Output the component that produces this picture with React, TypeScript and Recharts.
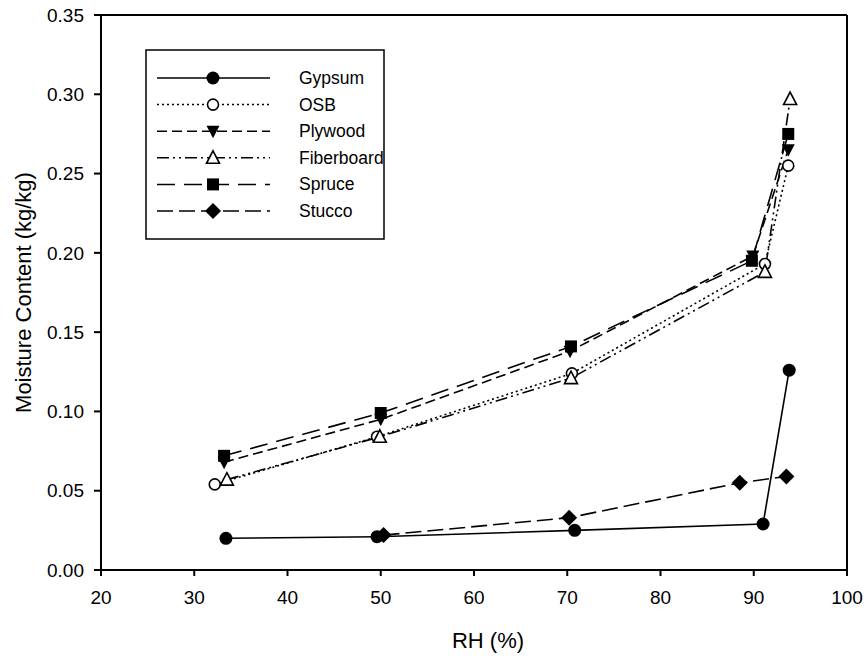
import React from 'react'
import { LineChart, Line, XAxis, YAxis, ReferenceLine, Legend } from 'recharts'

const gypsumRH = [33.4, 49.6, 70.8, 91.0, 93.8]
const gypsumMC = [0.020, 0.021, 0.025, 0.029, 0.126]

const osbRH = [32.2, 49.6, 70.5, 91.2, 93.7]
const osbMC = [0.054, 0.084, 0.124, 0.193, 0.255]

const plywoodRH = [33.2, 50.0, 70.3, 89.9, 93.7]
const plywoodMC = [0.068, 0.095, 0.138, 0.198, 0.265]

const fiberRH = [33.5, 49.9, 70.4, 91.2, 93.9]
const fiberMC = [0.057, 0.084, 0.121, 0.188, 0.297]

const spruceRH = [33.2, 50.0, 70.4, 89.8, 93.7]
const spruceMC = [0.072, 0.099, 0.141, 0.195, 0.275]

const stuccoRH = [50.3, 70.2, 88.5, 93.5]
const stuccoMC = [0.022, 0.033, 0.055, 0.059]

const xTicks = [20, 30, 40, 50, 60, 70, 80, 90, 100]
const yTicks = [0, 0.05, 0.1, 0.15, 0.2, 0.25, 0.3, 0.35]

const FONT = '"Liberation Sans", Arial, sans-serif'

type MarkerKind = 'circle' | 'openCircle' | 'down' | 'openUp' | 'square' | 'diamond'

const series: { name: string; rh: number[]; mc: number[]; dash?: string; marker: MarkerKind }[] = [
  { name: 'Gypsum', rh: gypsumRH, mc: gypsumMC, marker: 'circle' },
  { name: 'OSB', rh: osbRH, mc: osbMC, dash: '2 3', marker: 'openCircle' },
  { name: 'Plywood', rh: plywoodRH, mc: plywoodMC, dash: '10 5', marker: 'down' },
  { name: 'Fiberboard', rh: fiberRH, mc: fiberMC, dash: '12 4 2 4 2 4', marker: 'openUp' },
  { name: 'Spruce', rh: spruceRH, mc: spruceMC, dash: '18 9', marker: 'square' },
  { name: 'Stucco', rh: stuccoRH, mc: stuccoMC, dash: '16 6', marker: 'diamond' },
]

function Marker({ kind, cx, cy }: { kind: MarkerKind; cx: number; cy: number }) {
  if (cx == null || cy == null) return null
  switch (kind) {
    case 'circle':
      return <circle cx={cx} cy={cy} r={6.5} fill="#000" />
    case 'openCircle':
      return <circle cx={cx} cy={cy} r={5.5} fill="#fff" stroke="#000" strokeWidth={1.6} />
    case 'down':
      return <path d={`M${cx - 6.5},${cy - 5.5} L${cx + 6.5},${cy - 5.5} L${cx},${cy + 7} Z`} fill="#000" />
    case 'openUp':
      return (
        <path
          d={`M${cx},${cy - 7} L${cx + 6.5},${cy + 5.5} L${cx - 6.5},${cy + 5.5} Z`}
          fill="#fff"
          stroke="#000"
          strokeWidth={1.6}
        />
      )
    case 'square':
      return <rect x={cx - 6} y={cy - 6} width={12} height={12} fill="#000" />
    case 'diamond':
      return <path d={`M${cx},${cy - 8} L${cx + 8},${cy} L${cx},${cy + 8} L${cx - 8},${cy} Z`} fill="#000" />
  }
}

function LegendBox() {
  return (
    <svg width={240} height={191} style={{ display: 'block' }}>
      <rect x={1} y={1} width={238} height={189} fill="#fff" stroke="#000" strokeWidth={1.5} />
      {series.map((s, i) => {
        const y = 29 + i * 26.6
        return (
          <g key={s.name}>
            <line x1={12} x2={125} y1={y} y2={y} stroke="#000" strokeWidth={1.5} strokeDasharray={s.dash} />
            <Marker kind={s.marker} cx={68} cy={y} />
            <text x={154} y={y} dominantBaseline="central" fontSize={17.5} fontFamily={FONT} fill="#000">
              {s.name}
            </text>
          </g>
        )
      })}
    </svg>
  )
}

function YTitle(props: any) {
  const vb = props.viewBox || { x: 0, y: 15, width: 101, height: 555 }
  const cx = vb.x + 23
  const cy = vb.y + vb.height / 2
  return (
    <text
      x={cx}
      y={cy}
      transform={`rotate(-90 ${cx} ${cy})`}
      textAnchor="middle"
      dominantBaseline="central"
      fontSize={22}
      fontFamily={FONT}
      fill="#000"
    >
      Moisture Content (kg/kg)
    </text>
  )
}

function XTitle(props: any) {
  const vb = props.viewBox || { x: 101, y: 570, width: 746, height: 86 }
  return (
    <text
      x={vb.x + vb.width / 2 + 14}
      y={vb.y + 78}
      textAnchor="middle"
      fontSize={22}
      fontFamily={FONT}
      fill="#000"
    >
      RH (%)
    </text>
  )
}

export default function App() {
  const tick = { fill: '#000', fontSize: 19, fontFamily: FONT }
  return (
    <div style={{ position: 'absolute', left: 0, top: 0, width: 867, height: 656, background: '#fff' }}>
      <LineChart width={867} height={656} margin={{ top: 15, right: 20, bottom: 0, left: 0 }}>
        <XAxis
          type="number"
          dataKey="x"
          domain={[20, 100]}
          ticks={xTicks}
          allowDataOverflow
          tick={tick}
          tickSize={6}
          tickMargin={15}
          height={86}
          stroke="#000"
          strokeWidth={2}
          label={<XTitle />}
        />
        <YAxis
          type="number"
          dataKey="y"
          domain={[0, 0.35]}
          ticks={yTicks}
          allowDataOverflow
          tick={tick}
          tickFormatter={(v: number) => v.toFixed(2)}
          tickSize={7}
          tickMargin={10}
          width={101}
          stroke="#000"
          strokeWidth={2}
          label={<YTitle />}
        />
        <ReferenceLine y={0.35} stroke="#000" strokeWidth={2} ifOverflow="visible" />
        <ReferenceLine x={100} stroke="#000" strokeWidth={2} ifOverflow="visible" />
        {series.map((s) => (
          <Line
            key={s.name}
            name={s.name}
            data={s.rh.map((x, i) => ({ x, y: s.mc[i] }))}
            dataKey="y"
            type="linear"
            stroke="#000"
            strokeWidth={1.6}
            strokeDasharray={s.dash}
            isAnimationActive={false}
            legendType="none"
            dot={(p: any) => <Marker key={`${s.name}-${p.index}`} kind={s.marker} cx={p.cx} cy={p.cy} />}
            activeDot={false}
          />
        ))}
        <Legend
          layout="vertical"
          align="center"
          verticalAlign="middle"
          wrapperStyle={{ left: 145, top: 49, width: 240, height: 191 }}
          content={() => <LegendBox />}
        />
      </LineChart>
    </div>
  )
}
